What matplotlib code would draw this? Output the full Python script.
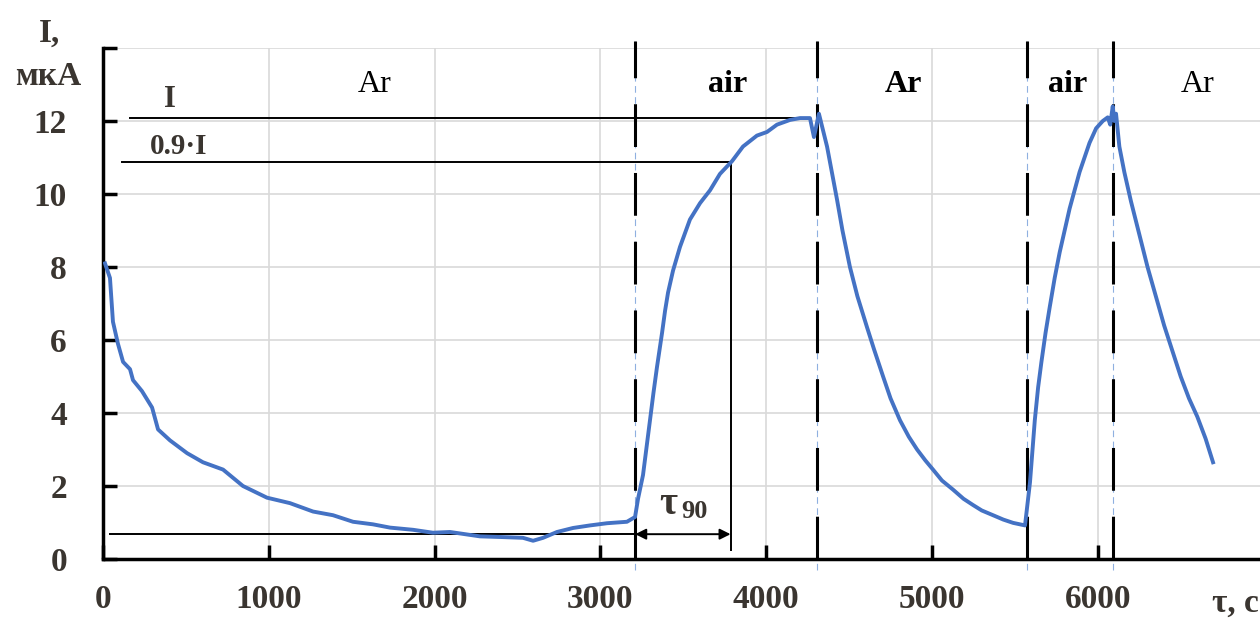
import numpy as np
import matplotlib
matplotlib.use("Agg")
import matplotlib.pyplot as plt

plt.rcParams['font.family'] = ['Liberation Serif', 'DejaVu Serif']

# current trace
t = [12, 42, 60, 90, 121, 163, 181, 235, 296, 332, 404, 507, 603, 724, 844,
     989, 1128, 1267, 1387, 1508, 1628, 1731, 1870, 1990, 2093, 2274, 2413,
     2533, 2594, 2654, 2738, 2835, 2937, 3040, 3160, 3209, 3227, 3257, 3299,
     3320, 3341, 3372, 3390, 3408, 3438, 3480, 3540, 3601, 3661, 3721, 3794,
     3860, 3944, 4005, 4065, 4144, 4204, 4264, 4288, 4318, 4367, 4427, 4460,
     4505, 4550, 4608, 4650, 4705, 4750, 4807, 4860, 4910, 4960, 5006, 5060,
     5127, 5190, 5247, 5300, 5368, 5430, 5489, 5561, 5591, 5620, 5640, 5660,
     5685, 5710, 5740, 5770, 5800, 5830, 5860, 5890, 5920, 5950, 5990, 6030,
     6060, 6075, 6090, 6100, 6110, 6130, 6160, 6200, 6250, 6300, 6350, 6400,
     6450, 6500, 6550, 6600, 6650, 6695]
cur = [8.1, 7.7, 6.5, 5.9, 5.4, 5.2, 4.9, 4.6, 4.15, 3.55, 3.25, 2.9, 2.65,
       2.45, 2.0, 1.68, 1.53, 1.3, 1.2, 1.02, 0.95, 0.86, 0.8, 0.72, 0.74,
       0.62, 0.6, 0.58, 0.5, 0.58, 0.74, 0.85, 0.92, 0.98, 1.02, 1.15, 1.65,
       2.3, 3.8, 4.55, 5.25, 6.2, 6.8, 7.3, 7.9, 8.55, 9.3, 9.75, 10.1, 10.55,
       10.9, 11.3, 11.6, 11.7, 11.9, 12.03, 12.08, 12.08, 11.56, 12.2, 11.3,
       9.85, 9.0, 8.0, 7.2, 6.35, 5.75, 5.0, 4.4, 3.8, 3.35, 3.0, 2.7, 2.45,
       2.15, 1.9, 1.65, 1.48, 1.33, 1.2, 1.08, 0.99, 0.92, 2.1, 3.8, 4.7, 5.4,
       6.2, 6.9, 7.7, 8.4, 9.0, 9.6, 10.1, 10.6, 11.0, 11.4, 11.8, 12.0, 12.1,
       11.9, 12.4, 12.0, 12.2, 11.3, 10.6, 9.8, 8.9, 8.0, 7.2, 6.4, 5.7, 5.0,
       4.4, 3.9, 3.3, 2.65]

switch_t = [3210, 4305, 5570, 6092]     # gas switching moments
gas_names = ['Ar', 'air', 'Ar', 'air', 'Ar']
gas_bold = [False, True, True, True, False]
gas_x = [1640, 3770, 4830, 5815, 6600]

i_max = 12.08
i_90 = 10.88
i_base = 0.68
t_start = 3210
t_90 = 3785

fig = plt.figure(figsize=(12.6, 6.18), dpi=100)
ax = fig.add_axes([103 / 1260, 59 / 618, 1160.6 / 1260, 511 / 618])

ax.plot(t, cur, color='#4472C4', lw=2.8, zorder=4)

# gas switching lines
for s in switch_t:
    ax.plot([s, s], [-0.3, 14.25], color='#8fb0e0', lw=0.8, ls=(0, (6, 4)),
            clip_on=False, zorder=2)
    ax.plot([s, s], [0, 14.2], color='black', lw=2.2, ls=(0, (14, 8.5)),
            clip_on=False, zorder=3)

# I, 0.9*I levels and tau90
ax.plot([163, 4192], [i_max, i_max], color='black', lw=1.4, zorder=3)
ax.plot([115, t_90], [i_90, i_90], color='black', lw=1.4, zorder=3)
ax.plot([t_90, t_90], [i_90, 0.25], color='black', lw=1.4, zorder=3)
ax.plot([42, t_start], [i_base, i_base], color='black', lw=1.4, zorder=3)
ax.annotate('', xy=(t_90, i_base), xytext=(t_start, i_base),
            arrowprops=dict(arrowstyle='<|-|>', color='black', lw=1.4,
                            mutation_scale=16, shrinkA=0, shrinkB=0), zorder=5)

ax.text(404, 12.58, 'I', fontsize=22, fontweight='bold', color='#3a3530',
        ha='center', va='center')
ax.text(455, 11.29, '0.9·I', fontsize=21, fontweight='bold', color='#3a3530',
        ha='center', va='center')
ax.text(3408, 1.5, 'τ', fontsize=28, fontweight='bold', color='#3a3530',
        ha='center', va='center')
ax.text(3570, 1.3, '90', fontsize=19, fontweight='bold', color='#3a3530',
        ha='center', va='center')

for name, x, b in zip(gas_names, gas_x, gas_bold):
    ax.text(x, 13.0, name, fontsize=23, fontweight='bold' if b else 'normal',
            color='black', ha='center', va='center')

# axis label pieces
ax.text(-320, 14.4, 'I,', fontsize=24, fontweight='bold', color='#3a3530',
        ha='center', va='center', clip_on=False)
ax.text(-330, 13.23, 'мкА', fontsize=24, fontweight='bold', color='#3a3530',
        ha='center', va='center', clip_on=False)
ax.text(6689, -1.22, 'τ, с', fontsize=24, fontweight='bold', color='#3a3530',
        ha='left', va='center', clip_on=False)

ax.set_xlim(0, 7000)
ax.set_ylim(0, 14)
ax.set_xticks(range(0, 7001, 1000))
ax.set_xticklabels([str(v) for v in range(0, 6001, 1000)] + [''])
ax.set_yticks(range(0, 15, 2))
ax.set_yticklabels([str(v) for v in range(0, 13, 2)] + [''])
ax.grid(True, color='#d9d9d9', lw=1.2, zorder=0)
ax.set_axisbelow(True)

for side in ['top', 'right']:
    ax.spines[side].set_visible(False)
for side in ['left', 'bottom']:
    ax.spines[side].set_linewidth(2.5)
    ax.spines[side].set_color('black')

ax.tick_params(axis='both', direction='in', length=10, width=2.5,
               colors='black', labelcolor='#3a3530', labelsize=24)
ax.tick_params(axis='x', pad=18)
ax.tick_params(axis='y', pad=26)
for lab in ax.get_xticklabels() + ax.get_yticklabels():
    lab.set_fontweight('bold')

fig.savefig('out.png', dpi=100)
